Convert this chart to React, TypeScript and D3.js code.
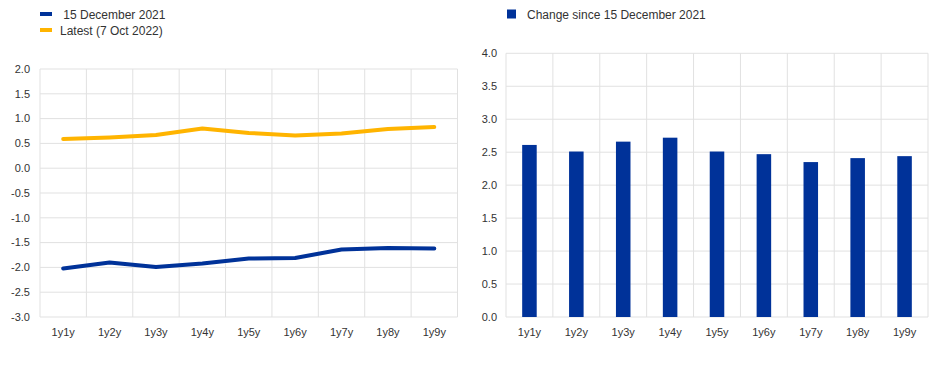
import { useMemo } from "react";
import * as d3 from "d3";

const categories = ["1y1y", "1y2y", "1y3y", "1y4y", "1y5y", "1y6y", "1y7y", "1y8y", "1y9y"];
const december2021 = [-2.02, -1.9, -1.99, -1.92, -1.82, -1.81, -1.64, -1.61, -1.62];
const latest = [0.59, 0.62, 0.67, 0.8, 0.71, 0.66, 0.7, 0.79, 0.83];
const change = [2.61, 2.51, 2.66, 2.72, 2.51, 2.47, 2.35, 2.41, 2.44];
const leftTicks = [2.0, 1.5, 1.0, 0.5, 0.0, -0.5, -1.0, -1.5, -2.0, -2.5, -3.0];
const rightTicks = [4.0, 3.5, 3.0, 2.5, 2.0, 1.5, 1.0, 0.5, 0.0];

const BLUE = "#003299";
const ORANGE = "#FFB400";
const GRID = "#e1e1e1";
const TEXT = "#333333";
const FONT = "Liberation Sans, Arial, sans-serif";

const width = 945,
  height = 366;

const App = () => {
  const left = { x0: 40, x1: 457.5, y0: 69, y1: 317 };
  const right = { x0: 506, x1: 928, y0: 53.3, y1: 317 };

  const xLeft = useMemo(
    () => d3.scaleBand().domain(categories).range([left.x0, left.x1]),
    []
  );
  const yLeft = useMemo(
    () => d3.scaleLinear().domain([-3, 2]).range([left.y1, left.y0]),
    []
  );
  const xRight = useMemo(
    () => d3.scaleBand().domain(categories).range([right.x0, right.x1]).paddingInner(0.69).paddingOuter(0.345),
    []
  );
  const xRightGrid = useMemo(
    () => d3.scaleBand().domain(categories).range([right.x0, right.x1]),
    []
  );
  const yRight = useMemo(
    () => d3.scaleLinear().domain([0, 4]).range([right.y1, right.y0]),
    []
  );

  const line = d3
    .line<number>()
    .x((_, i) => (xLeft(categories[i]) || 0) + xLeft.bandwidth() / 2)
    .y((d) => yLeft(d));

  // vertical grid lines at band boundaries
  const leftVGrid = categories.map((c) => xLeft(c) || 0).concat([left.x1]);
  const rightVGrid = categories.map((c) => xRightGrid(c) || 0).concat([right.x1]);

  return (
    <svg
      width={width}
      height={height}
      style={{ position: "absolute", left: 0, top: 0, background: "#fff" }}
      fontFamily={FONT}
    >
      {/* left legend */}
      <g fontSize={12} fill={TEXT}>
        <rect x={40} y={12} width={12} height={4} fill={BLUE} />
        <text x={60} y={18.5}>{"\u00a015 December 2021"}</text>
        <rect x={40} y={28} width={12} height={4} fill={ORANGE} />
        <text x={60} y={34.5}>Latest (7 Oct 2022)</text>
      </g>

      {/* left chart grid */}
      <g>
        {leftTicks.map((t, i) => (
          <g key={i}>
            <line x1={left.x0} x2={left.x1} y1={yLeft(t)} y2={yLeft(t)} stroke={GRID} strokeWidth={1} />
            <text x={30} y={yLeft(t)} dy="0.35em" textAnchor="end" fontSize={11} fill={TEXT}>
              {t.toFixed(1)}
            </text>
          </g>
        ))}
        {leftVGrid.map((x, i) => (
          <line key={i} x1={x} x2={x} y1={left.y0} y2={left.y1} stroke={GRID} strokeWidth={1} />
        ))}
        {categories.map((c) => (
          <text
            key={c}
            x={(xLeft(c) || 0) + xLeft.bandwidth() / 2}
            y={336}
            textAnchor="middle"
            fontSize={11}
            fill={TEXT}
          >
            {c}
          </text>
        ))}
      </g>
      <path d={line(december2021) || ""} fill="none" stroke={BLUE} strokeWidth={4} strokeLinejoin="round" strokeLinecap="round" />
      <path d={line(latest) || ""} fill="none" stroke={ORANGE} strokeWidth={4} strokeLinejoin="round" strokeLinecap="round" />

      {/* right legend */}
      <g fontSize={12} fill={TEXT}>
        <rect x={507} y={9.5} width={9} height={9} fill={BLUE} />
        <text x={527} y={18.5}>Change since 15 December 2021</text>
      </g>

      {/* right chart grid */}
      <g>
        {rightTicks.map((t, i) => (
          <g key={i}>
            <line x1={right.x0} x2={right.x1} y1={yRight(t)} y2={yRight(t)} stroke={GRID} strokeWidth={1} />
            <text x={497} y={yRight(t)} dy="0.35em" textAnchor="end" fontSize={11} fill={TEXT}>
              {t.toFixed(1)}
            </text>
          </g>
        ))}
        {rightVGrid.map((x, i) => (
          <line key={i} x1={x} x2={x} y1={right.y0} y2={right.y1} stroke={GRID} strokeWidth={1} />
        ))}
        {categories.map((c) => (
          <text
            key={c}
            x={(xRightGrid(c) || 0) + xRightGrid.bandwidth() / 2}
            y={336}
            textAnchor="middle"
            fontSize={11}
            fill={TEXT}
          >
            {c}
          </text>
        ))}
      </g>
      {change.map((v, i) => (
        <rect
          key={i}
          x={xRight(categories[i])}
          y={yRight(v)}
          width={xRight.bandwidth()}
          height={yRight(0) - yRight(v)}
          fill={BLUE}
        />
      ))}
    </svg>
  );
};

export default App;
